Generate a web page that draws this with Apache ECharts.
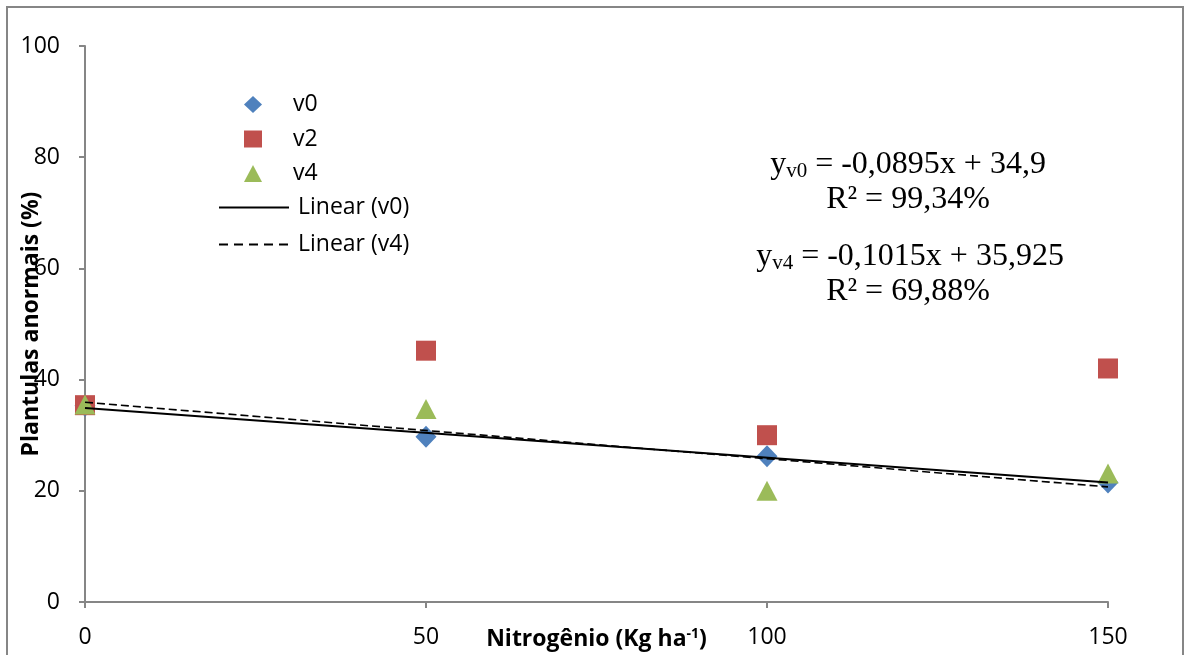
<!DOCTYPE html>
<html>
<head>
<meta charset="utf-8">
<script src="https://cdn.jsdelivr.net/npm/echarts@6/dist/echarts.min.js"></script>
<style>html,body{margin:0;padding:0;background:#fff}#c{width:1186px;height:655px}</style>
</head>
<body>
<div id="c"></div>
<script>
const nitrogen = [0, 50, 100, 150];
const v0 = [35.3, 29.7, 26.2, 21.5];
const v2 = [35.4, 45.2, 30.0, 42.0];
const v4 = [35.5, 34.7, 20.0, 23.1];
const trendV0 = { slope: -0.0895, intercept: 34.9 };
const trendV4 = { slope: -0.1015, intercept: 35.925 };
const yTicks = [0, 20, 40, 60, 80, 100];
const xTicks = [0, 50, 100, 150];

const pts = arr => nitrogen.map((x, i) => [x, arr[i]]);
const trend = t => [nitrogen[0], nitrogen[nitrogen.length - 1]].map(x => [x, t.intercept + t.slope * x]);

const font = '"Open Sans", "Liberation Sans", sans-serif';
const serif = '"Liberation Serif", "DejaVu Serif", serif';
const fs = 23;
const chart = echarts.init(document.getElementById('c'));
chart.setOption({
  animation: false,
  backgroundColor: '#fff',
  grid: { left: 85, right: 78, top: 46, bottom: 53, outerBoundsMode: 'none', containLabel: false },
  xAxis: {
    type: 'value', min: xTicks[0], max: xTicks[xTicks.length - 1], interval: 50,
    splitLine: { show: false },
    axisLine: { lineStyle: { color: '#868686', width: 2 } },
    axisTick: { lineStyle: { color: '#868686', width: 2 }, length: 6 },
    axisLabel: { color: '#000', fontSize: fs, fontFamily: font, margin: 24 },
    name: '{n|Nitrogênio (Kg ha}{s|-1}{n|)}',
    nameLocation: 'middle', nameGap: 25, nameMoveOverlap: false,
    nameTextStyle: {
      rich: {
        n: { fontSize: fs, fontWeight: 'bold', fontFamily: font, color: '#000' },
        s: { fontSize: 14, fontWeight: 'bold', fontFamily: font, color: '#000', verticalAlign: 'top', padding: [0, 0, 10, 0] }
      }
    }
  },
  yAxis: {
    type: 'value', min: yTicks[0], max: yTicks[yTicks.length - 1], interval: 20,
    splitLine: { show: false },
    axisLine: { show: true, lineStyle: { color: '#868686', width: 2 } },
    axisTick: { show: true, lineStyle: { color: '#868686', width: 2 }, length: 6 },
    axisLabel: { color: '#000', fontSize: fs, fontFamily: font, margin: 25 },
    name: 'Plantulas anormais (%)',
    nameLocation: 'middle', nameGap: 42, nameMoveOverlap: false,
    nameTextStyle: { fontSize: fs, fontWeight: 'bold', fontFamily: font, color: '#000' }
  },
  legend: [
    {
      data: ['v0', 'v2', 'v4'], orient: 'vertical', left: 244, top: 93, padding: 0,
      itemWidth: 18, itemHeight: 17, itemGap: 11.5,
      textStyle: { fontSize: fs, fontFamily: font, color: '#000', lineHeight: 20, padding: [0, 0, 0, 26] }
    },
    {
      data: [
        { name: 'Linear (v0)', lineStyle: { width: 2 } },
        { name: 'Linear (v4)', lineStyle: { width: 2, type: [9, 6] } }
      ],
      orient: 'vertical', left: 218, top: 196, padding: 0,
      itemWidth: 70, itemHeight: 14, itemGap: 14,
      itemStyle: { opacity: 0 },
      textStyle: { fontSize: fs, fontFamily: font, color: '#000', lineHeight: 20, padding: [0, 0, 0, 4] }
    }
  ],
  series: [
    { name: 'v0', type: 'scatter', data: pts(v0), symbol: 'diamond', symbolSize: [21, 22], itemStyle: { color: '#4F81BD', opacity: 1 }, z: 2 },
    { name: 'v2', type: 'scatter', data: pts(v2), symbol: 'rect', symbolSize: 20, itemStyle: { color: '#C0504D', opacity: 1 }, z: 3 },
    { name: 'v4', type: 'scatter', data: pts(v4), symbol: 'triangle', symbolSize: [21, 20], itemStyle: { color: '#9BBB59', opacity: 1 }, z: 4 },
    { name: 'Linear (v0)', type: 'line', data: trend(trendV0), symbol: 'none', showSymbol: false, lineStyle: { color: '#000', width: 2 }, itemStyle: { color: 'rgba(0,0,0,0)' }, z: 5 },
    { name: 'Linear (v4)', type: 'line', data: trend(trendV4), symbol: 'none', showSymbol: false, lineStyle: { color: '#000', width: 1.6, type: [8, 4] }, itemStyle: { color: 'rgba(0,0,0,0)' }, z: 5 }
  ],
  graphic: [
    { type: 'rect', shape: { x: 7, y: 7, width: 1176, height: 660 }, style: { fill: 'none', stroke: '#868686', lineWidth: 2 }, silent: true },
    {
      type: 'text', x: 908, y: 165,
      style: {
        text: '{m|y}{sub|v0}{m| = -0,0895x + 34,9}', align: 'center', verticalAlign: 'middle',
        rich: { m: { fontSize: 32, fontFamily: serif, fill: '#000' }, sub: { fontSize: 21, fontFamily: serif, fill: '#000', padding: [12, 0, 0, 0] } }
      }
    },
    { type: 'text', x: 908, y: 200, style: { text: 'R² = 99,34%', align: 'center', verticalAlign: 'middle', fontSize: 32, fontFamily: serif, fill: '#000' } },
    {
      type: 'text', x: 910, y: 257,
      style: {
        text: '{m|y}{sub|v4}{m| = -0,1015x + 35,925}', align: 'center', verticalAlign: 'middle',
        rich: { m: { fontSize: 32, fontFamily: serif, fill: '#000' }, sub: { fontSize: 21, fontFamily: serif, fill: '#000', padding: [12, 0, 0, 0] } }
      }
    },
    { type: 'text', x: 908, y: 292, style: { text: 'R² = 69,88%', align: 'center', verticalAlign: 'middle', fontSize: 32, fontFamily: serif, fill: '#000' } }
  ]
});
</script>
</body>
</html>
